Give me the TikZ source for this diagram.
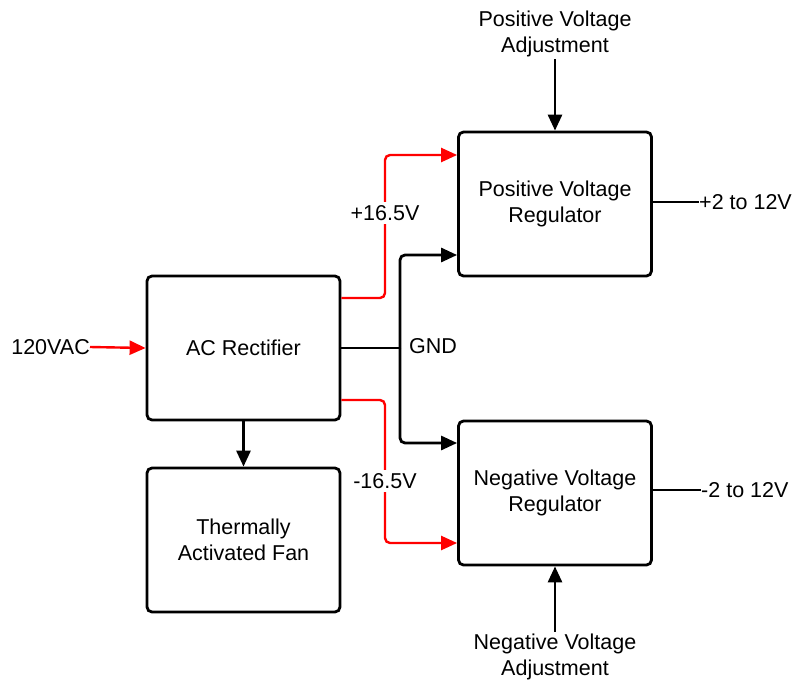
\documentclass[tikz,border=0pt]{standalone}
\usepackage{fontspec}
\setmainfont{Liberation Sans}
\usetikzlibrary{arrows.meta}
\begin{document}
\begin{tikzpicture}[x=1pt,y=-1pt,
  font=\fontsize{21.5}{26}\selectfont,
  box/.style={draw=black,line width=2.8pt,rounded corners=5pt,minimum width=193pt,minimum height=144pt,align=center,inner sep=0pt},
  blk/.style={draw=black,line width=2.8pt,rounded corners=5pt,-{Triangle[length=16pt,width=14pt]}},
  redw/.style={draw=red,line width=2.4pt,rounded corners=5pt},
  reda/.style={redw,-{Triangle[length=16pt,width=14pt]}},
  lbl/.style={inner sep=2pt,align=center}]
\useasboundingbox (0,0) rectangle (793,681);
\node[box] (rect) at (243.5,348) {AC Rectifier};
\node[box] (fan) at (243.5,540) {Thermally\\Activated Fan};
\node[box] (pos) at (555,204) {Positive Voltage\\Regulator};
\node[box] (neg) at (555,493) {Negative Voltage\\Regulator};
\node[lbl] (padj) at (555,34) {Positive Voltage\\Adjustment};
\node[lbl] (nadj) at (555,657) {Negative Voltage\\Adjustment};
\node[lbl,anchor=west,inner sep=0pt] (pout) at (699,202) {+2 to 12V};
\node[lbl,anchor=west,inner sep=0pt] (nout) at (701,490) {-2 to 12V};
\node[lbl,anchor=east,inner sep=0pt] (ac) at (90,347) {120VAC};
\node[lbl] (gndl) at (433,346) {GND};
\coordinate (gj) at (400,348);
% input
\draw[reda] (ac.east) -- (rect.west);
% fan
\draw[blk] (rect.south) -- (fan.north);
% adjustments
\draw[blk] (padj.south) -- (pos.north);
\draw[blk] (nadj.north) -- (neg.south);
% outputs
\draw[line width=2.8pt] (pos.east |- pout) -- (pout.west);
\draw[line width=2.8pt] (neg.east |- nout) -- (nout.west);
% +16.5V
\draw[reda] (rect.east |- 0,298) -- (385,298) -- (385,155) -- (pos.west |- 0,155);
\node[fill=white,inner sep=3pt] (plab) at (385,213) {+16.5V};
% -16.5V
\draw[reda] (rect.east |- 0,400) -- (385,400) -- (385,543) -- (neg.west |- 0,543);
\node[fill=white,inner sep=3pt] (nlab) at (385,481) {-16.5V};
% GND
\draw[line width=2.8pt] (rect.east) -- (gj);
\draw[blk] (gj) -- (400,255) -- (pos.west |- 0,255);
\draw[blk] (gj) -- (400,443) -- (neg.west |- 0,443);
\end{tikzpicture}
\end{document}
